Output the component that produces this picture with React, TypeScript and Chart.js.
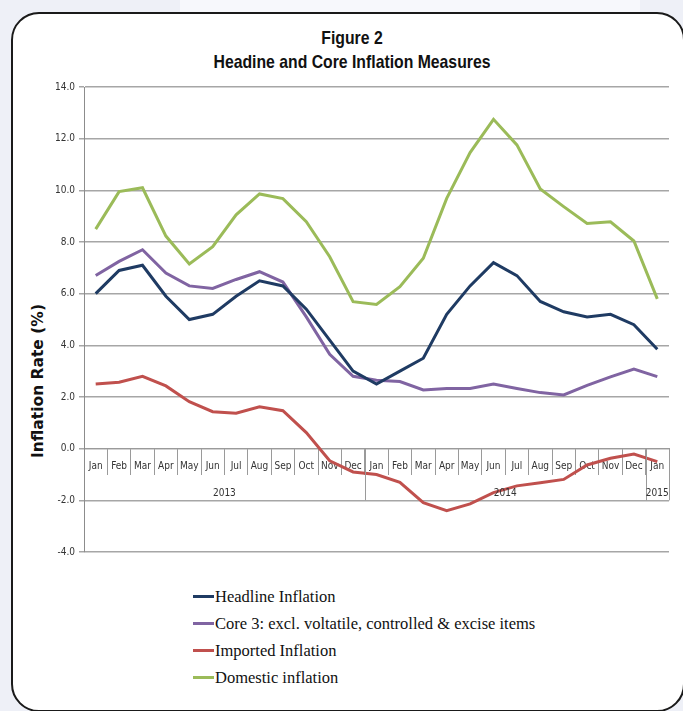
import React, { useEffect, useRef } from "react";
import { Chart, registerables } from "chart.js";

Chart.register(...registerables);

const months = ["Jan","Feb","Mar","Apr","May","Jun","Jul","Aug","Sep","Oct","Nov","Dec","Jan","Feb","Mar","Apr","May","Jun","Jul","Aug","Sep","Oct","Nov","Dec","Jan"];
const years = ["2013", "2014", "2015"];
const yearSpans = [12, 12, 1];

const headline = [6.0, 6.9, 7.1, 5.9, 5.0, 5.2, 5.9, 6.5, 6.3, 5.4, 4.2, 3.0, 2.5, 3.0, 3.5, 5.2, 6.3, 7.2, 6.7, 5.7, 5.3, 5.1, 5.2, 4.8, 3.85];
const core3 = [6.7, 7.25, 7.7, 6.8, 6.3, 6.2, 6.55, 6.85, 6.45, 5.1, 3.65, 2.8, 2.65, 2.6, 2.27, 2.33, 2.33, 2.5, 2.33, 2.17, 2.08, 2.45, 2.78, 3.08, 2.79];
const imported = [2.5, 2.57, 2.8, 2.43, 1.82, 1.43, 1.37, 1.62, 1.47, 0.62, -0.47, -0.9, -1.0, -1.3, -2.09, -2.4, -2.14, -1.7, -1.44, -1.32, -1.19, -0.63, -0.37, -0.21, -0.5];
const domestic = [8.5, 9.95, 10.1, 8.23, 7.15, 7.82, 9.05, 9.86, 9.68, 8.79, 7.43, 5.69, 5.58, 6.27, 7.37, 9.69, 11.46, 12.75, 11.76, 10.05, 9.37, 8.72, 8.78, 8.04, 5.8];

const yMin = -4;
const yMax = 14;
const yStep = 2;

const seriesNames = [
  "Headline Inflation",
  "Core 3: excl. voltatile, controlled & excise items",
  "Imported Inflation",
  "Domestic inflation",
];
const seriesColors = ["#1f3b63", "#8064a2", "#c0504d", "#9bbb59"];
const seriesData = [headline, core3, imported, domestic];

const NARROW = "'DejaVu Sans Condensed', 'Liberation Sans Narrow', sans-serif";

const yearPlugin = {
  id: "yearGroups",
  afterDraw(chart: any) {
    const x = chart.scales.x;
    const y = chart.scales.y;
    const ctx = chart.ctx;
    const y0 = y.getPixelForValue(0);
    const yb = y.getPixelForValue(-2);
    const half = (x.getPixelForValue(1) - x.getPixelForValue(0)) / 2;
    ctx.save();
    ctx.strokeStyle = "#9a9a9a";
    ctx.lineWidth = 1;
    ctx.fillStyle = "#333";
    ctx.font = "10px " + NARROW;
    ctx.textAlign = "center";
    ctx.textBaseline = "middle";
    let start = 0;
    years.forEach((label, i) => {
      const end = start + yearSpans[i] - 1;
      const left = x.getPixelForValue(start) - half;
      const right = x.getPixelForValue(end) + half;
      const rx = Math.round(right) + 0.5;
      ctx.beginPath();
      ctx.moveTo(rx, y0);
      ctx.lineTo(rx, yb);
      ctx.stroke();
      ctx.fillText(label, (left + right) / 2, y0 + 45);
      start = end + 1;
    });
    ctx.restore();
  },
};

export default function App() {
  const canvasRef = useRef<HTMLCanvasElement | null>(null);

  useEffect(() => {
    if (!canvasRef.current) return;
    const chart = new Chart(canvasRef.current, {
      type: "line",
      data: {
        labels: months,
        datasets: seriesData.map((d, i) => ({
          label: seriesNames[i],
          data: d,
          borderColor: seriesColors[i],
          backgroundColor: seriesColors[i],
          borderWidth: 3,
          pointRadius: 0,
          tension: 0,
          fill: false,
        })),
      },
      options: {
        responsive: false,
        animation: false,
        maintainAspectRatio: false,
        layout: { padding: { top: 10, bottom: 15, left: 7, right: 13 } },
        plugins: {
          legend: { display: false },
          title: { display: false },
          tooltip: { enabled: false },
        },
        scales: {
          x: {
            type: "category",
            position: { y: 0 } as any,
            offset: true,
            grid: {
              offset: true,
              drawOnChartArea: false,
              drawTicks: true,
              tickLength: 26,
              color: "#9a9a9a",
              lineWidth: 1,
            },
            border: { display: true, color: "#9a9a9a", width: 1 },
            ticks: {
              autoSkip: false,
              maxRotation: 0,
              minRotation: 0,
              padding: -14,
              color: "#333",
              font: { family: NARROW, size: 10 },
            },
          },
          y: {
            min: yMin,
            max: yMax,
            afterFit: (scale: any) => {
              scale.width = 55;
            },
            ticks: {
              stepSize: yStep,
              padding: 4,
              color: "#333",
              font: { family: NARROW, size: 10 },
              callback: (v: any) => Number(v).toFixed(1),
            },
            grid: {
              color: "#a6a6a6",
              lineWidth: 1.5,
              drawTicks: true,
              tickLength: 5,
            },
            border: { display: true, color: "#8c8c8c", width: 1 },
          },
        },
      },
      plugins: [yearPlugin],
    });
    return () => chart.destroy();
  }, []);

  const titleLine = {
    whiteSpace: "nowrap" as const,
    transform: "scaleX(0.83)",
    transformOrigin: "center",
  };

  return (
    <div
      style={{
        position: "fixed",
        left: 0,
        top: 0,
        width: 683,
        height: 711,
        overflow: "hidden",
        background: "#eef0f7",
      }}
    >
      <div style={{ position: "absolute", left: 180, top: 0, width: 460, height: 14, background: "#f7f8fc" }} />
      <div
        style={{
          position: "absolute",
          left: 11,
          top: 12,
          width: 674,
          height: 700,
          boxSizing: "border-box",
          border: "2.5px solid #1a1a1a",
          borderRadius: 28,
          background: "#ffffff",
        }}
      />
      <div
        style={{
          position: "absolute",
          left: 102,
          top: 26,
          width: 500,
          textAlign: "center",
          fontFamily: "'Liberation Sans', Arial, sans-serif",
          fontWeight: "bold",
          fontSize: 19,
          lineHeight: "24px",
          color: "#111",
        }}
      >
        <div style={titleLine}>Figure 2</div>
        <div style={titleLine}>Headine and Core Inflation Measures</div>
      </div>
      <div
        style={{
          position: "absolute",
          left: 38,
          top: 381,
          transform: "translate(-50%, -50%) rotate(-90deg)",
          whiteSpace: "nowrap",
          fontFamily: "'DejaVu Sans', Verdana, sans-serif",
          fontWeight: "bold",
          fontSize: 15.5,
          color: "#111",
        }}
      >
        Inflation Rate (%)
      </div>
      <canvas
        ref={canvasRef}
        width={660}
        height={490}
        style={{ position: "absolute", left: 22, top: 77, width: 660, height: 490 }}
      />
      <div style={{ position: "absolute", left: 193, top: 583 }}>
        {seriesNames.map((name, i) => (
          <div
            key={name}
            style={{
              display: "flex",
              alignItems: "center",
              height: 27,
              fontFamily: "'Liberation Serif', 'Times New Roman', serif",
              fontSize: 16.5,
              color: "#111",
              whiteSpace: "nowrap",
            }}
          >
            <span style={{ display: "inline-block", width: 21, height: 3, background: seriesColors[i], marginRight: 1 }} />
            <span>{name}</span>
          </div>
        ))}
      </div>
    </div>
  );
}
